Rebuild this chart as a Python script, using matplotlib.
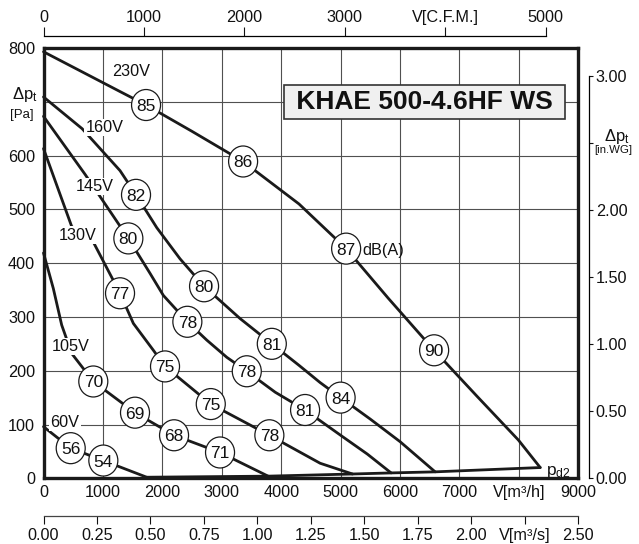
import matplotlib
matplotlib.use("Agg")
import matplotlib.pyplot as plt
from matplotlib.patches import Ellipse

plt.rcParams["font.family"] = ["Liberation Sans", "DejaVu Sans"]
plt.rcParams["mathtext.fontset"] = "custom"
plt.rcParams["mathtext.rm"] = "Liberation Sans"
plt.rcParams["mathtext.it"] = "Liberation Sans:italic"

# --- DATA: fan curves, V [m3/h] vs dp [Pa] ---
v_230 = [0, 1288, 1726, 2500, 3359, 4300, 5093, 5800, 6574, 7300, 7993, 8359]
p_230 = [793, 719, 694, 645, 589, 510, 427, 335, 238, 152, 71, 20]

v_160 = [0, 650, 1288, 1557, 1906, 2298, 2702, 3308, 3842, 4300, 4655, 5000, 5500, 6002, 6591]
p_160 = [709, 650, 572, 527, 466, 408, 357, 297, 250, 210, 178, 150, 110, 68, 12]

v_145 = [0, 700, 1428, 1793, 2017, 2421, 2747, 3084, 3421, 3900, 4402, 5000, 5450, 5850]
p_145 = [673, 565, 446, 381, 340, 291, 257, 225, 199, 160, 127, 80, 45, 10]

v_130 = [0, 475, 811, 1288, 1512, 1849, 2045, 2815, 3801, 4655, 5200]
p_130 = [613, 468, 445, 344, 288, 238, 208, 138, 80, 28, 8]

v_105 = [0, 165, 306, 475, 838, 1540, 2197, 2971, 3780]
p_105 = [419, 353, 285, 232, 180, 122, 80, 48, 4]

v_60 = [0, 458, 1007, 1737]
p_60 = [96, 56, 33, 2]

v_pd2 = [1737, 3780, 5200, 5850, 6591, 8359]
p_pd2 = [2, 4, 8, 10, 12, 20]

# sound level markers dB(A)
db_v = [1726, 3359, 5093, 6574,
        1557, 2702, 3842, 5000,
        1428, 2421, 3421, 4402,
        1288, 2045, 2815, 3801,
        838, 1540, 2197, 2971,
        458, 1007]
db_p = [694, 589, 427, 238,
        527, 357, 250, 150,
        446, 291, 199, 127,
        344, 208, 138, 80,
        180, 122, 80, 48,
        56, 33]
db_val = [85, 86, 87, 90,
          82, 80, 81, 84,
          80, 78, 78, 81,
          77, 75, 75, 78,
          70, 69, 68, 71,
          56, 54]

volt_labels = ["230V", "160V", "145V", "130V", "105V", "60V"]
volt_v = [1473, 1030, 867, 580, 458, 362]
volt_p = [760, 655, 545, 455, 248, 107]

x_ticks = [0, 1000, 2000, 3000, 4000, 5000, 6000, 7000, 8000, 9000]
x_labels = ["0", "1000", "2000", "3000", "4000", "5000", "6000", "7000", "V[m³/h]", "9000"]
y_ticks = [0, 100, 200, 300, 400, 500, 600, 700, 800]
y_labels = ["0", "100", "200", "300", "400", "500", "600", "", "800"]
cfm_ticks = [0, 1000, 2000, 3000, 4000, 5000]
cfm_labels = ["0", "1000", "2000", "3000", "V[C.F.M.]", "5000"]
ms_ticks = [0, 0.25, 0.5, 0.75, 1.0, 1.25, 1.5, 1.75, 2.0, 2.25, 2.5]
ms_labels = ["0.00", "0.25", "0.50", "0.75", "1.00", "1.25", "1.50", "1.75", "2.00", "V[m³/s]", "2.50"]
wg_ticks = [0, 0.5, 1.0, 1.5, 2.0, 2.5, 3.0]
wg_labels = ["0.00", "0.50", "1.00", "1.50", "2.00", "", "3.00"]

# --- FIGURE ---
W, H = 639, 544
fig = plt.figure(figsize=(W / 100, H / 100), dpi=100)
x0, x1, y0, y1 = 43.5, 578.3, 48, 478.3
ax = fig.add_axes([x0 / W, 1 - y1 / H, (x1 - x0) / W, (y1 - y0) / H])
ax.set_xlim(0, 9000)
ax.set_ylim(0, 800)

ax.set_xticks(x_ticks)
ax.set_xticklabels(x_labels)
ax.set_yticks(y_ticks)
ax.set_yticklabels(y_labels)
ax.tick_params(length=0, labelsize=11.7, colors="#111111")
ax.tick_params(axis="x", pad=5)
ax.tick_params(axis="y", pad=6)
ax.grid(True, color="#505050", linewidth=0.8)
ax.set_axisbelow(True)
for sp in ax.spines.values():
    sp.set_linewidth(2.4)
    sp.set_color("#1a1a1a")
    sp.set_zorder(6)

lc = "#1a1a1a"
for v, p in [(v_230, p_230), (v_160, p_160), (v_145, p_145), (v_130, p_130),
             (v_105, p_105), (v_60, p_60), (v_pd2, p_pd2)]:
    ax.plot(v, p, color=lc, linewidth=2.0, solid_joinstyle="round",
            solid_capstyle="round", zorder=3, clip_on=False)

# circles (size in pixels -> data units)
sx = (x1 - x0) / 9000
sy = (y1 - y0) / 800
cw, ch = 29 / sx, 31 / sy
for v, p, d in zip(db_v, db_p, db_val):
    ax.add_patch(Ellipse((v, p), cw, ch, facecolor="white", edgecolor=lc,
                         linewidth=0.9, zorder=4))
    ax.text(v, p, str(d), ha="center", va="center_baseline", fontsize=12.5,
            color="#111111", zorder=5)

for lab, v, p in zip(volt_labels, volt_v, volt_p):
    ax.text(v, p, lab, ha="center", va="center_baseline", fontsize=11.7, color="#111111",
            zorder=4, bbox=dict(boxstyle="square,pad=0.08", fc="white", ec="none"))

ax.text(5360, 427, "dB(A)", ha="left", va="center_baseline", fontsize=11.7,
        color="#111111", zorder=4)
ax.text(8667, 17, r"$\mathregular{p_{d2}}$", ha="center", va="center_baseline",
        fontsize=12.5, color="#111111", zorder=4)

ax.text(6411, 700, " KHAE 500-4.6HF WS ", ha="center", va="center", fontsize=19,
        fontweight="bold", color="#111111", zorder=7,
        bbox=dict(boxstyle="square,pad=0.2", fc="#f0f0f0", ec="#333333", lw=1.2))

# --- secondary axes ---
top = ax.secondary_xaxis(1 + (y0 - 36) / (y1 - y0),
                         functions=(lambda v: v / 1.69, lambda c: c * 1.69))
top.set_xticks(cfm_ticks)
top.set_xticklabels(cfm_labels)
top.tick_params(direction="out", length=6.5, width=0.8, pad=1.5, labelsize=11.7,
                colors="#111111")
top.spines["top"].set_bounds(0, 5000)
top.spines["top"].set_linewidth(0.9)

bot = ax.secondary_xaxis(-(516 - y1) / (y1 - y0),
                         functions=(lambda v: v / 3600, lambda q: q * 3600))
bot.set_xticks(ms_ticks)
bot.set_xticklabels(ms_labels)
bot.tick_params(direction="out", length=5.8, width=0.8, pad=2.5, labelsize=11.7,
                colors="#111111")
bot.spines["bottom"].set_bounds(0, 2.5)
bot.spines["bottom"].set_linewidth(0.9)
bot.spines["bottom"].set_color("#444444")

rax = ax.secondary_yaxis(1 + (589.3 - x1) / (x1 - x0),
                         functions=(lambda p: p / 249.1, lambda w: w * 249.1))
rax.set_yticks(wg_ticks)
rax.set_yticklabels(wg_labels)
rax.tick_params(direction="out", length=3.2, width=0.8, pad=1.5, labelsize=11.7,
                colors="#111111")
rax.spines["right"].set_bounds(0, 3)
rax.spines["right"].set_linewidth(0.9)

# axis titles
fig.text(25 / W, 1 - 94 / H, r"$\mathregular{\Delta p_t}$", ha="center", va="center",
         fontsize=12, color="#111111")
fig.text(22 / W, 1 - 115 / H, "[Pa]", ha="center", va="center", fontsize=9.5,
         color="#111111")
fig.text(617 / W, 1 - 136 / H, r"$\mathregular{\Delta p_t}$", ha="center", va="center",
         fontsize=12, color="#111111")
fig.text(613 / W, 1 - 150 / H, "[in.WG]", ha="center", va="center", fontsize=8.2,
         color="#111111")

fig.savefig("out.png", dpi=100)
